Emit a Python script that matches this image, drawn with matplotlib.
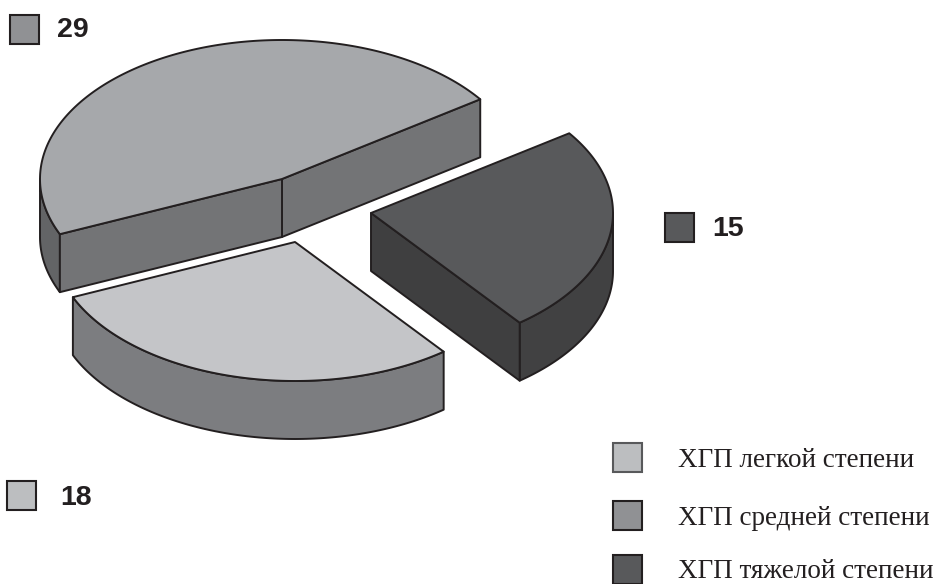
import numpy as np
import matplotlib
matplotlib.use("Agg")
import matplotlib.pyplot as plt
from matplotlib.patches import Rectangle

# data
categories = ["ХГП средней степени", "ХГП легкой степени", "ХГП тяжелой степени"]
values = [29, 18, 15]
value_labels = ["29", "18", "15"]
legend_order = [1, 0, 2]

# style
top_colors = ["#a6a8ab", "#c4c5c8", "#58595b"]
wall_colors = ["#636466", "#7c7d80", "#414142"]
cut_colors = ["#737476", "#7c7d80", "#3f3f40"]
swatch_colors = ["#909194", "#bcbec0", "#58595b"]
edge = "#231f20"
centers = [(282, 179), (295, 242), (371, 213)]
swatch_boxes = [(10, 15), (7, 481), (665, 213)]
label_pos = [(57, 30), (60, 498), (712, 229)]
legend_y = [458, 516, 570]
legend_baseline = [467, 525, 578]
A, B, DEPTH = 242, 139, 58
START = 35.0

fig = plt.figure(figsize=(9.39, 5.84), dpi=100)
ax = fig.add_axes([0, 0, 1, 1])
ax.set_xlim(0, 939)
ax.set_ylim(584, 0)
ax.axis("off")


def ell(c, t):
    t = np.radians(t)
    return c[0] + A * np.cos(t), c[1] - B * np.sin(t)


def poly(xs, ys, fc, z):
    ax.fill(xs, ys, facecolor=fc, edgecolor=edge, linewidth=1.4, joinstyle="round", zorder=z)


total = sum(values)
t0 = START
for i, v in enumerate(values):
    t1 = t0 + 360.0 * v / total
    c = centers[i]
    z = 2 + i
    # outer wall: the part of the rim on the front half of the ellipse
    lo = max(t0, 180.0)
    hi = min(t1, 360.0)
    if hi > lo:
        tt = np.linspace(lo, hi, 120)
        x, y = ell(c, tt)
        poly(np.r_[x, x[::-1]], np.r_[y, y[::-1] + DEPTH], wall_colors[i], z)
    # radial cut faces that look towards the viewer
    for t, normal in ((t0, t0 - 90), (t1, t1 + 90)):
        if np.sin(np.radians(normal)) < 0:
            x, y = ell(c, t)
            poly([c[0], x, x, c[0]], [c[1], y, y + DEPTH, c[1] + DEPTH], cut_colors[i], z)
    # top face
    tt = np.linspace(t0, t1, 240)
    x, y = ell(c, tt)
    poly(np.r_[c[0], x], np.r_[c[1], y], top_colors[i], z + 0.5)
    t0 = t1

for i in range(3):
    bx, by = swatch_boxes[i]
    ax.add_patch(Rectangle((bx, by), 29, 29, facecolor=swatch_colors[i], edgecolor=edge, linewidth=1.5))
    ax.text(*label_pos[i], value_labels[i], family="Liberation Sans", weight="bold",
            fontsize=20.5, color=edge, va="center", ha="left")

for j, i in enumerate(legend_order):
    ax.add_patch(Rectangle((613, legend_y[j] - 15), 29, 29, facecolor=swatch_colors[i],
                           edgecolor="#58595b" if j == 0 else edge, linewidth=1.5, clip_on=False))
    ax.text(678, legend_baseline[j], categories[i], family="Liberation Serif", fontsize=19.5,
            color=edge, va="baseline", ha="left")

fig.savefig("out.png", dpi=100)
